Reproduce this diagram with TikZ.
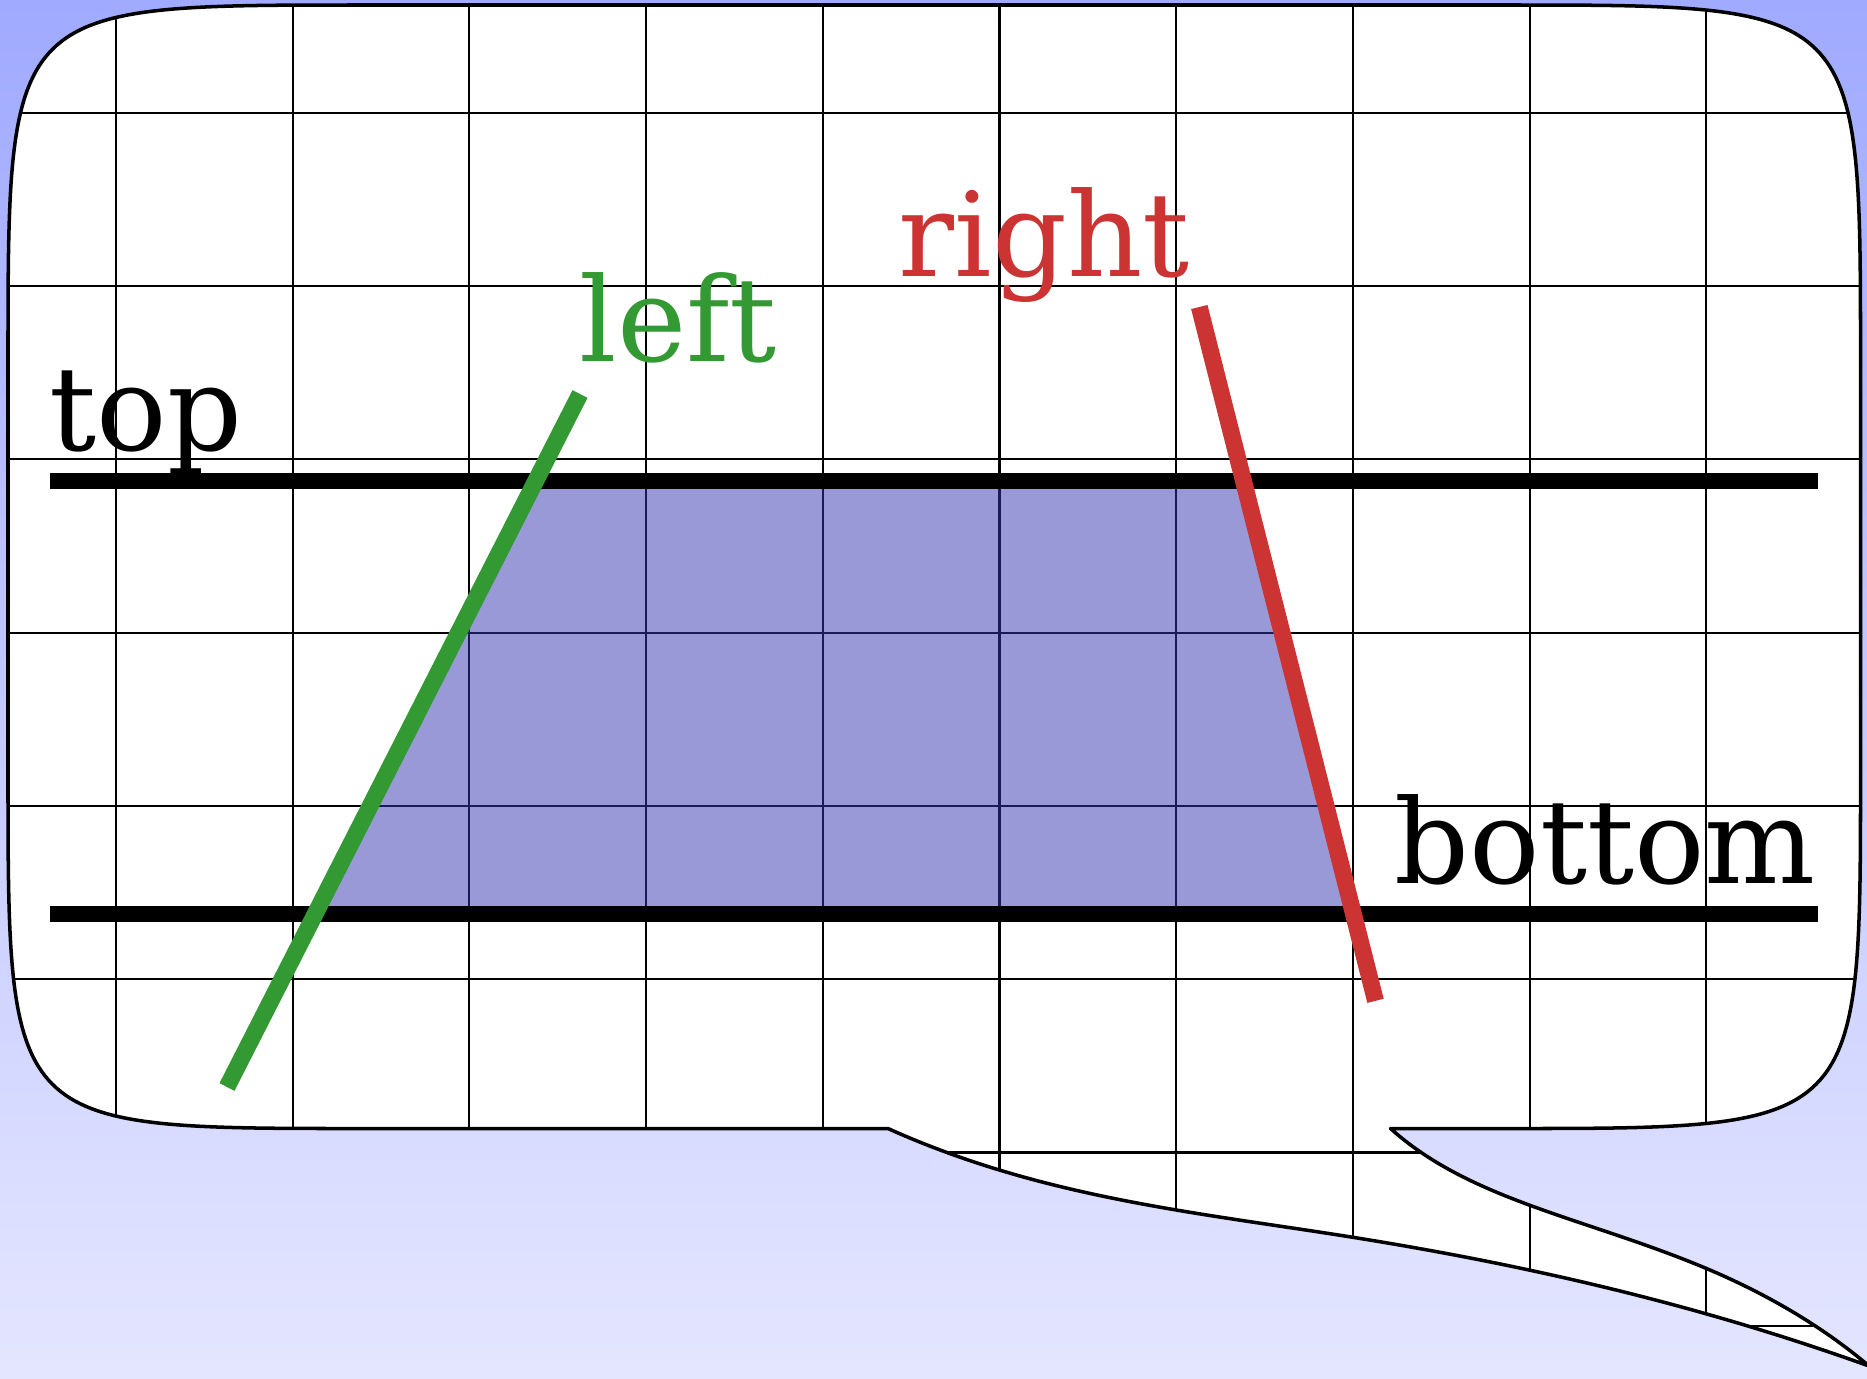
\documentclass[tikz,border=0pt]{standalone}
\usepackage{fontspec}
\newfontfamily\labfont{DejaVu Serif}
\definecolor{bgtop}{RGB}{160,170,255}
\definecolor{bgbot}{RGB}{228,230,255}
\definecolor{trapblue}{RGB}{52,52,178}
\definecolor{lgreen}{RGB}{51,153,51}
\definecolor{rred}{RGB}{204,51,51}
\tikzset{
  gridline/.style={draw=black, line width=0.6pt},
  bubbleborder/.style={draw=black, line width=1pt, line join=round},
  thickbar/.style={draw=black, line width=4.7pt},
  sideline/.style={line width=4.8pt},
  lab/.style={inner sep=0pt, anchor=base west, font=\labfont\fontsize{33.3}{40}\selectfont},
  trap/.style={fill=trapblue, fill opacity=0.5}
}
\def\bubblepath{(8,360) .. controls (8,5) and (8,5) .. (363,5) -- (1505.5,5) .. controls (1860.5,5) and (1860.5,5) .. (1860.5,360) -- (1860.5,773.5) .. controls (1860.5,1128.5) and (1860.5,1128.5) .. (1505.5,1128.5) -- (1390.5,1128.5) .. controls (1470.5,1200.5) and (1586,1217.9) .. (1706,1268.3) .. controls (1761,1291.4) and (1819,1323.5) .. (1869,1366) .. controls (1697,1304.1) and (1525,1264.8) .. (1353,1237.3) .. controls (1198,1212.5) and (1043,1198.3) .. (888,1128.5) -- (363,1128.5) .. controls (8,1128.5) and (8,1128.5) .. (8,773.5) -- cycle}
\begin{document}
\begin{tikzpicture}[x=0.01cm, y=-0.01cm]
\useasboundingbox (0,0) rectangle (1867,1378);
\shade[top color=bgtop, bottom color=bgbot] (0,0) rectangle (1867,1378);
\fill[white] \bubblepath;
\begin{scope}
  \clip \bubblepath;
  \foreach \i in {0,...,9} {
    \draw[gridline] ({116+176.7*\i},0) -- ({116+176.7*\i},1378);
  }
  \foreach \j in {0,...,7} {
    \draw[gridline] (0,{112.7+173.3*\j}) -- (1867,{112.7+173.3*\j});
  }
\end{scope}
\coordinate (tl) at (50,481);
\coordinate (tr) at (1818,481);
\coordinate (bl) at (50,914);
\coordinate (br) at (1818,914);
\coordinate (g1) at (227,1087);
\coordinate (g2) at (580,394);
\coordinate (r1) at (1199.3,307);
\coordinate (r2) at (1375.5,1000.8);
\fill[trap] (intersection of tl--tr and g1--g2) -- (intersection of tl--tr and r1--r2) -- (intersection of bl--br and r1--r2) -- (intersection of bl--br and g1--g2) -- cycle;
\draw[thickbar] (tl) -- (tr);
\draw[thickbar] (bl) -- (br);
\draw[sideline, draw=lgreen] (g1) -- (g2);
\draw[sideline, draw=rred] (r1) -- (r2);
\node[lab] (toplab) at (49,450) {top};
\node[lab] (bottomlab) at (1394,883) {bottom};
\node[lab, text=lgreen] (leftlab) at (579,361.7) {left};
\node[lab, text=rred] (rightlab) at (898,276.7) {right};
\draw[bubbleborder] \bubblepath;
\end{tikzpicture}
\end{document}
